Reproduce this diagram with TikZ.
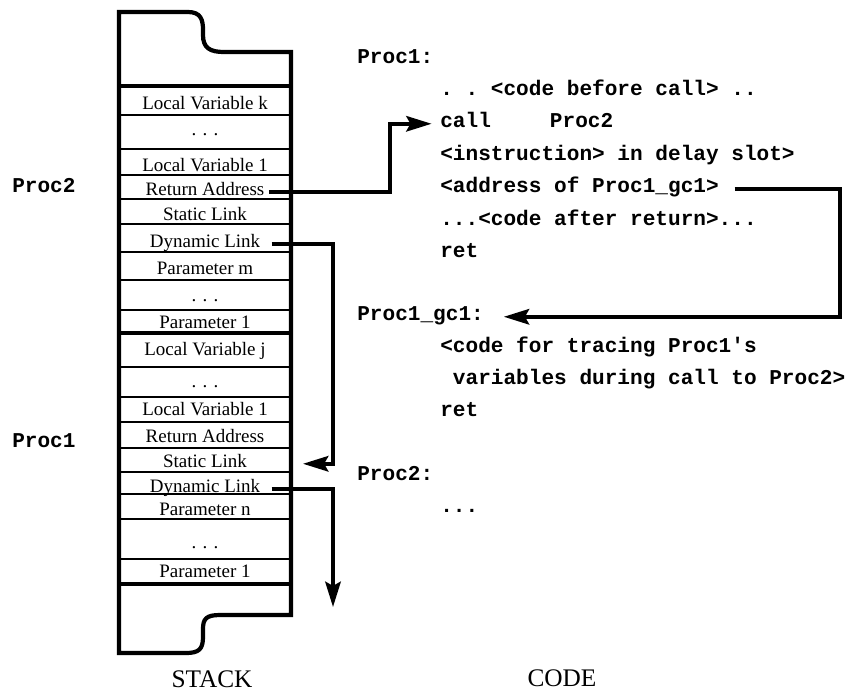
\documentclass[tikz,border=0pt]{standalone}
\usepackage{fontspec}
\setmainfont{Liberation Serif}
\setmonofont{Liberation Mono}
\usetikzlibrary{arrows.meta}

\begin{document}
\begin{tikzpicture}[x=0.025cm, y=-0.025cm,
  cell/.style={font=\fontsize{13.5}{15}\selectfont, anchor=base, inner sep=0pt},
  code/.style={font=\fontsize{15}{18}\selectfont\ttfamily\bfseries, anchor=base west, inner sep=0pt},
  caption/.style={font=\fontsize{18}{22}\selectfont, anchor=base, inner sep=0pt},
  link/.style={line width=2.6pt, -{Stealth[length=18pt, width=11pt, inset=3pt]}}]
\useasboundingbox (0,0) rectangle (852,692);
% stack outline, torn at top and bottom
\draw[line width=3pt] (119,12) -- (188,12) .. controls (201,12) and (203,20) .. (203,30) -- (203,35)
  .. controls (203,48) and (210,52) .. (224,52) -- (291,52) -- (291,615) -- (220,615)
  .. controls (206,615) and (203,619) .. (203,629) -- (203,637) .. controls (203,649) and (199,653) .. (186,653)
  -- (119,653) -- cycle;
% frame borders and slots
\foreach \y in {86,333,584} \draw[line width=3pt] (119,\y) -- (291,\y);
\foreach \y in {115,149,175,199,224,252,280,310,367,397,422,448,472,494,519,559}
  \draw[line width=1pt] (119,\y) -- (291,\y);
% Proc2 frame
\foreach \n/\y/\txt in {lvk2/109/Local Variable k, dots2a/135/. . ., lvl2/171/Local Variable 1,
    ra2/195/Return Address, sl2/220/Static Link, dl2/247/Dynamic Link, pm2/274/Parameter m,
    dots2b/301/. . ., pone2/328/Parameter 1}
  \node[cell] (\n) at (205,\y) {\txt};
% Proc1 frame
\foreach \n/\y/\txt in {lvj1/355/Local Variable j, dots1a/387/. . ., lvl1/415/Local Variable 1,
    ra1/442/Return Address, sl1/467/Static Link, dl1/492/Dynamic Link, pn1/515/Parameter n,
    dots1b/548/. . ., pone1/577/Parameter 1}
  \node[cell] (\n) at (205,\y) {\txt};
% frame names
\node[code] (p2lab) at (12,192) {Proc2};
\node[code] (p1lab) at (12,447) {Proc1};
% code listing
\node[code] (proc1) at (357,63) {Proc1:};
\node[code] (before) at (440,95) {. . <code before call> ..};
\node[code] (call) at (440,127) {call\hspace{2.8em}Proc2};
\node[code] (delay) at (440,160) {<instruction> in delay slot>};
\node[code] (addr) at (440,192) {<address of Proc1\_gc1>};
\node[code] (after) at (440,225) {...<code after return>...};
\node[code] (ret1) at (440,257) {ret};
\node[code] (gc1) at (357,320) {Proc1\_gc1:};
\node[code] (trace) at (440,352) {<code for tracing Proc1's};
\node[code] (during) at (440,384) {\hspace{0.6em}variables during call to Proc2>};
\node[code] (ret2) at (440,416) {ret};
\node[code] (proc2) at (357,480) {Proc2:};
\node[code] (rest) at (440,512) {...};
% captions
\node[caption] (stack) at (212,687) {STACK};
\node[caption] (codecap) at (562,686) {CODE};
% bend points and free ends
\coordinate (turn) at (390,0);
\coordinate (bus) at (333,0);
\coordinate (rim) at (303,0);
\coordinate (rail) at (840,0);
\coordinate (drop) at (333,607);
% links
\draw[link, shorten <=3pt, shorten >=6pt] (ra2.mid east) -| (turn |- call.mid west) -- (call.mid west);
\draw[link, shorten <=8pt] (dl2.mid east) -| (bus |- sl1.mid east) -- (rim |- sl1.mid east);
\draw[link, shorten <=8pt] (dl1.mid east) -| (drop);
\draw[link, shorten <=11pt, shorten >=14pt] (addr.mid east) -| (rail |- gc1.mid east) -- (gc1.mid east);
\end{tikzpicture}
\end{document}
